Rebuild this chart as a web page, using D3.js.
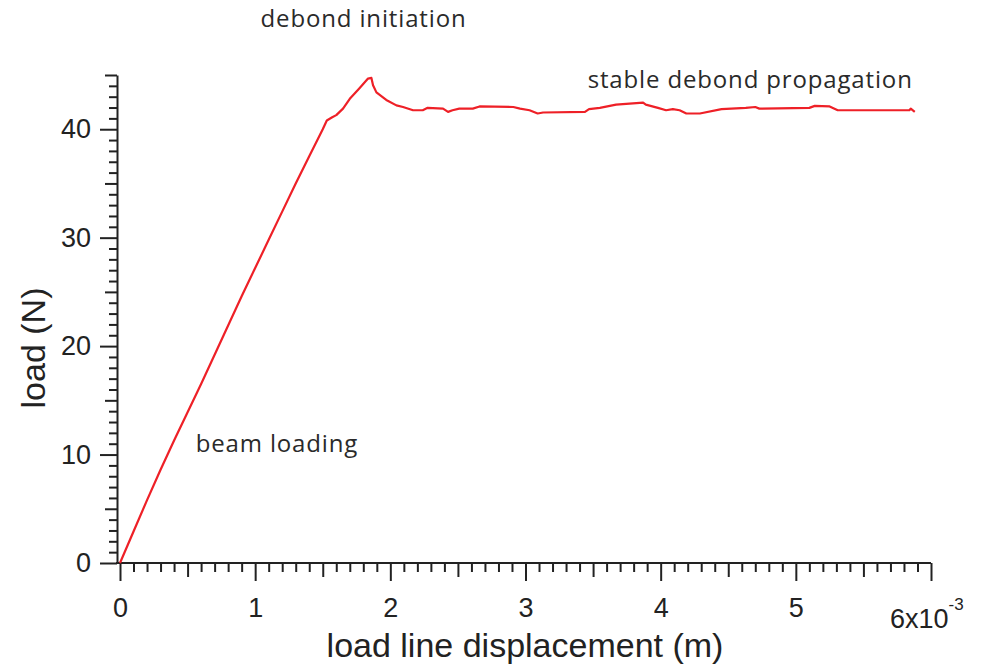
<!DOCTYPE html>
<html>
<head>
<meta charset="utf-8">
<script src="https://cdn.jsdelivr.net/npm/d3@7"></script>
<style>
    body { margin: 0; background: #fff; }
    .axis text { font-family: "Liberation Sans", Arial, sans-serif; font-size: 27px; fill: #222; }
    .axis path, .axis line { stroke: #222; stroke-width: 2; }
    .title { font-family: "Liberation Sans", Arial, sans-serif; font-size: 34px; fill: #222; }
    .note { font-family: "Open Sans", sans-serif; font-size: 24px; fill: #2a2a2a; letter-spacing: 0.85px; }
</style>
</head>
<body>
<div id="chart"></div>
<script>

// displacement in 1e-3 m
const displacement = [0, 0.1, 0.2, 0.3, 0.4, 0.5, 0.6, 0.7, 0.8, 0.9, 1.0, 1.1, 1.2, 1.3, 1.4, 1.5,
    1.53, 1.57, 1.6, 1.65, 1.7, 1.77, 1.835, 1.86, 1.872, 1.897, 1.97, 2.045, 2.094, 2.168, 2.24,
    2.276, 2.39, 2.427, 2.46, 2.51, 2.61, 2.66, 2.91, 2.96, 3.03, 3.09, 3.13, 3.44, 3.47, 3.55,
    3.67, 3.87, 3.89, 3.98, 4.04, 4.09, 4.14, 4.19, 4.29, 4.45, 4.63, 4.70, 4.73, 5.10, 5.14,
    5.25, 5.31, 5.84, 5.85, 5.88];

// load in N
const load = [0, 2.9, 5.8, 8.6, 11.3, 13.9, 16.5, 19.2, 21.9, 24.6, 27.2, 29.8, 32.4, 35.0, 37.5, 40.0,
    40.8, 41.1, 41.3, 41.9, 42.8, 43.75, 44.67, 44.73, 44.05, 43.4, 42.7, 42.2, 42.05, 41.75, 41.75,
    41.97, 41.9, 41.6, 41.75, 41.9, 41.9, 42.1, 42.05, 41.9, 41.75, 41.45, 41.54, 41.6, 41.85, 41.97,
    42.27, 42.45, 42.27, 41.97, 41.75, 41.85, 41.75, 41.45, 41.45, 41.85, 41.97, 42.05, 41.9, 41.97, 42.15,
    42.1, 41.75, 41.75, 41.9, 41.6];

const xMajorTicks = [0, 1, 2, 3, 4, 5, 6];
const xTickLabels = ['0', '1', '2', '3', '4', '5', ''];
const yMajorTicks = [0, 10, 20, 30, 40];
const yTickLabels = ['0', '10', '20', '30', '40'];

const notes = [
    { text: 'debond initiation', x: 1.04, y: 49.4 },
    { text: 'stable debond propagation', x: 3.46, y: 43.8 },
    { text: 'beam loading', x: 0.56, y: 10.2 }
];

const width = 990, height = 665;

const svg = d3.select('#chart')
    .append('svg')
    .attr('width', width)
    .attr('height', height);

// scales
const xScale = d3.scaleLinear().domain([0, 6]).range([120, 931]);
const yScale = d3.scaleLinear().domain([0, 45]).range([563, 75]);

const yAxisX = 117;

// minor + medium ticks first, majors on top
const xMinor = d3.range(0, 60).map(d => d / 10).filter(d => d % 1 !== 0);
svg.append('g')
    .attr('class', 'axis')
    .attr('transform', 'translate(0,' + yScale(0) + ')')
    .call(d3.axisBottom(xScale).tickValues(xMinor.filter(d => Math.abs(d % 1 - 0.5) > 1e-6)).tickSize(9).tickFormat('').tickSizeOuter(0))
    .call(g => g.select('.domain').remove());
svg.append('g')
    .attr('class', 'axis')
    .attr('transform', 'translate(0,' + yScale(0) + ')')
    .call(d3.axisBottom(xScale).tickValues(xMinor.filter(d => Math.abs(d % 1 - 0.5) < 1e-6)).tickSize(14).tickFormat('').tickSizeOuter(0))
    .call(g => g.select('.domain').remove());

const xAxisGroup = svg.append('g')
    .attr('class', 'axis')
    .attr('transform', 'translate(0,' + yScale(0) + ')')
    .call(d3.axisBottom(xScale)
        .tickValues(xMajorTicks)
        .tickFormat((d, i) => xTickLabels[i])
        .tickSize(18)
        .tickPadding(17)
        .tickSizeOuter(0));
xAxisGroup.select('.domain').attr('d', 'M' + (yAxisX - 1) + ',0H' + xScale(6));

const yMinor = d3.range(0, 46).filter(d => d % 10 !== 0);
svg.append('g')
    .attr('class', 'axis')
    .attr('transform', 'translate(' + yAxisX + ',0)')
    .call(d3.axisLeft(yScale).tickValues(yMinor.filter(d => d % 5 !== 0)).tickSize(8).tickFormat('').tickSizeOuter(0))
    .call(g => g.select('.domain').remove());
svg.append('g')
    .attr('class', 'axis')
    .attr('transform', 'translate(' + yAxisX + ',0)')
    .call(d3.axisLeft(yScale).tickValues(yMinor.filter(d => d % 5 === 0)).tickSize(12).tickFormat('').tickSizeOuter(0))
    .call(g => g.select('.domain').remove());

svg.append('g')
    .attr('class', 'axis')
    .attr('transform', 'translate(' + yAxisX + ',0)')
    .call(d3.axisLeft(yScale)
        .tickValues(yMajorTicks)
        .tickFormat((d, i) => yTickLabels[i])
        .tickSize(17)
        .tickPadding(9)
        .tickSizeOuter(0));

// the last x label carries the exponent, set a bit lower
const expLabel = svg.append('text')
    .attr('class', 'axis-exp')
    .attr('x', xScale(6) - 41)
    .attr('y', 628)
    .style('font-family', '"Liberation Sans", Arial, sans-serif')
    .style('font-size', '27px')
    .style('fill', '#222');
expLabel.append('tspan').text('6x10');
expLabel.append('tspan').attr('dy', -18).style('font-size', '17px').text('-3');

// axis titles
svg.append('text')
    .attr('class', 'title')
    .attr('x', 525)
    .attr('y', 657)
    .attr('text-anchor', 'middle')
    .text('load line displacement (m)');

svg.append('text')
    .attr('class', 'title')
    .attr('transform', 'translate(45,348) rotate(-90)')
    .attr('text-anchor', 'middle')
    .text('load (N)');

// curve
const line = d3.line()
    .x((d, i) => xScale(displacement[i]))
    .y(d => yScale(d));

svg.append('path')
    .datum(load)
    .attr('fill', 'none')
    .attr('stroke', '#ee2027')
    .attr('stroke-width', 2.2)
    .attr('stroke-linejoin', 'round')
    .attr('d', line);

// annotations
svg.selectAll('.note')
    .data(notes)
    .enter()
    .append('text')
    .attr('class', 'note')
    .attr('x', d => xScale(d.x))
    .attr('y', d => yScale(d.y))
    .text(d => d.text);

</script>
</body>
</html>
